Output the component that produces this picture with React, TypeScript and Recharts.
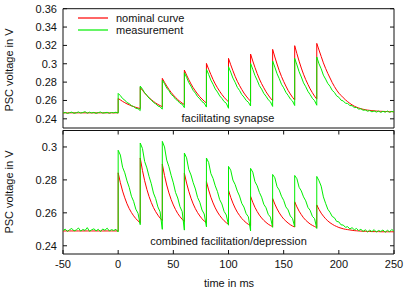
import { LineChart, Line, XAxis, YAxis, ReferenceArea, Legend } from "recharts"

// time grid in ms; every pulse time appears twice (value before and after the jump)
const timeMs = [
  -50, -48, -46, -44, -42, -40, -38, -36, -34, -32, -30, -28, -26, -24, -22, -20, -18, -16, -14, -12, -10, -8, -6, -4, -2,
  0, 0, 2, 4, 6, 8, 10, 12, 14, 16, 18,
  20, 20, 22, 24, 26, 28, 30, 32, 34, 36, 38,
  40, 40, 42, 44, 46, 48, 50, 52, 54, 56, 58,
  60, 60, 62, 64, 66, 68, 70, 72, 74, 76, 78,
  80, 80, 82, 84, 86, 88, 90, 92, 94, 96, 98,
  100, 100, 102, 104, 106, 108, 110, 112, 114, 116, 118,
  120, 120, 122, 124, 126, 128, 130, 132, 134, 136, 138,
  140, 140, 142, 144, 146, 148, 150, 152, 154, 156, 158,
  160, 160, 162, 164, 166, 168, 170, 172, 174, 176, 178,
  180, 180, 182, 184, 186, 188, 190, 192, 194, 196, 198, 200, 202, 204, 206, 208, 210, 212, 214, 216,
  218, 220, 222, 224, 226, 228, 230, 232, 234, 236, 238, 240, 242, 244, 246, 248, 250,
]

// facilitating synapse, nominal curve (V)
const facilNominal = [
  0.2465, 0.2465, 0.2465, 0.2465, 0.2465, 0.2465, 0.2465, 0.2465, 0.2465, 0.2465, 0.2465, 0.2465, 0.2465,
  0.2465, 0.2465, 0.2465, 0.2465, 0.2465, 0.2465, 0.2465, 0.2465, 0.2465, 0.2465, 0.2465, 0.2465,
  0.2465, 0.2622, 0.2606, 0.259, 0.2576, 0.2563, 0.2552, 0.2542, 0.2533, 0.2525, 0.2518,
  0.2512, 0.2742, 0.2711, 0.2681, 0.2654, 0.263, 0.2609, 0.259, 0.2572, 0.2557, 0.2544,
  0.2532, 0.2841, 0.2798, 0.2758, 0.2721, 0.2688, 0.2659, 0.2634, 0.2609, 0.2589, 0.2571,
  0.2555, 0.2931, 0.2877, 0.2827, 0.278, 0.2739, 0.2703, 0.2671, 0.264, 0.2615, 0.2592,
  0.2572, 0.3004, 0.2941, 0.2883, 0.2828, 0.278, 0.2738, 0.27, 0.2665, 0.2635, 0.2608,
  0.2585, 0.3059, 0.2989, 0.2924, 0.2863, 0.2809, 0.2763, 0.272, 0.2681, 0.2648, 0.2618,
  0.2592, 0.3106, 0.303, 0.2959, 0.2893, 0.2834, 0.2783, 0.2738, 0.2695, 0.2659, 0.2626,
  0.2598, 0.3157, 0.3074, 0.2997, 0.2925, 0.2862, 0.2807, 0.2757, 0.271, 0.2671, 0.2635,
  0.2605, 0.3197, 0.311, 0.3028, 0.2953, 0.2886, 0.2827, 0.2775, 0.2726, 0.2685, 0.2647,
  0.2615, 0.3222, 0.315, 0.308, 0.301, 0.295, 0.2895, 0.2845, 0.2795, 0.2752, 0.2713, 0.268, 0.2655, 0.263,
  0.2607, 0.2587, 0.2568, 0.2552, 0.2538, 0.2527, 0.2518, 0.251, 0.2504, 0.2499, 0.2495, 0.2492, 0.2489,
  0.2487, 0.2485, 0.2483, 0.2482, 0.2481, 0.248, 0.2479, 0.2478, 0.2478, 0.2477,
]

// facilitating synapse, measurement (V)
const facilMeasured = [
  0.2462, 0.247, 0.2458, 0.2467, 0.2473, 0.246, 0.2466, 0.2475, 0.2463, 0.2469, 0.2478, 0.2461, 0.2472,
  0.2464, 0.247, 0.2459, 0.2468, 0.2474, 0.2462, 0.2466, 0.2471, 0.246, 0.2469, 0.2465, 0.2472,
  0.2462, 0.2677, 0.2653, 0.2621, 0.2604, 0.2577, 0.2566, 0.2543, 0.2534, 0.2515, 0.251,
  0.249, 0.2757, 0.2724, 0.2683, 0.2658, 0.2624, 0.2606, 0.2578, 0.2564, 0.254, 0.2531,
  0.2505, 0.2822, 0.2783, 0.2736, 0.2707, 0.2667, 0.2646, 0.2614, 0.2597, 0.257, 0.2559,
  0.2522, 0.2902, 0.2852, 0.2795, 0.2756, 0.2709, 0.268, 0.2641, 0.2618, 0.2587, 0.2571,
  0.2528, 0.294, 0.2884, 0.2822, 0.2777, 0.2725, 0.2692, 0.265, 0.2623, 0.2588, 0.257,
  0.2515, 0.2968, 0.2909, 0.2844, 0.2798, 0.2743, 0.2709, 0.2665, 0.2637, 0.2601, 0.2581,
  0.254, 0.3004, 0.294, 0.2871, 0.282, 0.2761, 0.2724, 0.2677, 0.2646, 0.2608, 0.2586,
  0.2535, 0.303, 0.2963, 0.2891, 0.2838, 0.2777, 0.2738, 0.2689, 0.2656, 0.2617, 0.2594,
  0.2545, 0.3059, 0.2988, 0.2913, 0.2856, 0.2792, 0.275, 0.2699, 0.2664, 0.2623, 0.2598,
  0.2548, 0.3074, 0.3, 0.2945, 0.2876, 0.2833, 0.2785, 0.2755, 0.271, 0.2688, 0.265, 0.2635, 0.2603, 0.2595,
  0.257, 0.2567, 0.2545, 0.2543, 0.2523, 0.2524, 0.2506, 0.251, 0.2493, 0.2497, 0.2483, 0.249, 0.2476,
  0.2486, 0.2473, 0.2484, 0.247, 0.2482, 0.2472, 0.2485, 0.247, 0.2481, 0.2474,
]

// combined facilitation/depression, nominal curve (V)
const combNominal = [
  0.249, 0.249, 0.249, 0.249, 0.249, 0.249, 0.249, 0.249, 0.249, 0.249, 0.249, 0.249, 0.249,
  0.249, 0.249, 0.249, 0.249, 0.249, 0.249, 0.249, 0.249, 0.249, 0.249, 0.249, 0.249,
  0.249, 0.2843, 0.2783, 0.2732, 0.2691, 0.2655, 0.2626, 0.2602, 0.2582, 0.2565, 0.2551,
  0.2539, 0.2933, 0.2858, 0.2795, 0.2743, 0.2699, 0.2663, 0.2632, 0.2607, 0.2586, 0.2568,
  0.2553, 0.2896, 0.2827, 0.2769, 0.2721, 0.2681, 0.2648, 0.262, 0.2596, 0.2577, 0.2561,
  0.2547, 0.2841, 0.2781, 0.2731, 0.2689, 0.2654, 0.2625, 0.2601, 0.2581, 0.2564, 0.255,
  0.2538, 0.279, 0.2739, 0.2695, 0.266, 0.263, 0.2605, 0.2584, 0.2567, 0.2552, 0.254,
  0.253, 0.2737, 0.2694, 0.2659, 0.2629, 0.2604, 0.2584, 0.2566, 0.2552, 0.254, 0.253,
  0.2522, 0.27, 0.2664, 0.2633, 0.2608, 0.2586, 0.2569, 0.2554, 0.2542, 0.2531, 0.2523,
  0.2516, 0.2687, 0.2653, 0.2624, 0.26, 0.258, 0.2563, 0.255, 0.2538, 0.2528, 0.252,
  0.2514, 0.2667, 0.2636, 0.261, 0.2589, 0.257, 0.2555, 0.2543, 0.2532, 0.2524, 0.2517,
  0.251, 0.2648, 0.2621, 0.2598, 0.258, 0.2564, 0.2551, 0.254, 0.2531, 0.2523, 0.2517, 0.2511, 0.2507, 0.2503,
  0.25, 0.2498, 0.2496, 0.2494, 0.2492, 0.2491, 0.249, 0.2489, 0.2488, 0.2488, 0.2487, 0.2487, 0.2486,
  0.2486, 0.2486, 0.2486, 0.2485, 0.2485, 0.2485, 0.2485, 0.2485, 0.2485, 0.2485,
]

// combined facilitation/depression, measurement (V)
const combMeasured = [
  0.2492, 0.2501, 0.2487, 0.2498, 0.2505, 0.249, 0.2496, 0.2508, 0.2489, 0.2499, 0.2493, 0.251, 0.2488,
  0.2497, 0.2503, 0.2491, 0.25, 0.2486, 0.2502, 0.2494, 0.2507, 0.249, 0.2498, 0.2493, 0.25,
  0.2484, 0.298, 0.2951, 0.2877, 0.2843, 0.2794, 0.2755, 0.2701, 0.267, 0.2622, 0.2597,
  0.2528, 0.3024, 0.2991, 0.2912, 0.2873, 0.2821, 0.2777, 0.272, 0.2686, 0.2636, 0.2606,
  0.25, 0.3034, 0.3, 0.292, 0.288, 0.2828, 0.2782, 0.2724, 0.269, 0.2638, 0.2608,
  0.2495, 0.2963, 0.2934, 0.2863, 0.283, 0.2783, 0.2745, 0.2693, 0.2664, 0.2617, 0.2593,
  0.2515, 0.2933, 0.2906, 0.2839, 0.2809, 0.2764, 0.2729, 0.268, 0.2654, 0.2609, 0.2587,
  0.2525, 0.2882, 0.2859, 0.2799, 0.2772, 0.2732, 0.2702, 0.2658, 0.2635, 0.2595, 0.2576,
  0.249, 0.287, 0.2847, 0.2789, 0.2764, 0.2724, 0.2695, 0.2652, 0.2631, 0.2591, 0.2574,
  0.2512, 0.2833, 0.2813, 0.2759, 0.2738, 0.2701, 0.2676, 0.2636, 0.2618, 0.2581, 0.2566,
  0.2515, 0.2827, 0.2807, 0.2755, 0.2733, 0.2697, 0.2673, 0.2633, 0.2615, 0.2579, 0.2565,
  0.2505, 0.2821, 0.2795, 0.2762, 0.2697, 0.2658, 0.2622, 0.2603, 0.2578, 0.257, 0.2548, 0.2545, 0.2527, 0.2526,
  0.2512, 0.2516, 0.2502, 0.251, 0.2497, 0.2505, 0.2492, 0.25, 0.2487, 0.2497, 0.2484, 0.2495, 0.2486,
  0.2498, 0.2483, 0.2493, 0.2487, 0.2496, 0.2482, 0.2494, 0.2485, 0.2499, 0.2488,
]

const timeTicks = [-50, 0, 50, 100, 150, 200, 250]
const facilTicks = [0.24, 0.26, 0.28, 0.3, 0.32, 0.34, 0.36]
const combTicks = [0.24, 0.26, 0.28, 0.3]
const legendOrder = ["nominal curve", "measurement"]

const facilData = timeMs.map((t, i) => ({ t, nominal: facilNominal[i], measured: facilMeasured[i] }))
const combData = timeMs.map((t, i) => ({ t, nominal: combNominal[i], measured: combMeasured[i] }))

const FONT = '"Liberation Sans", Arial, Helvetica, sans-serif'
const RED = "#ff0000"
const GREEN = "#00ee00"
const INK = "#111"
const PLOT_W = 331
const TICK_LEN = 4
const TICK_GAP = 6

// y tick: label on the left, inward tick marks on both sides of the frame
const makeYTick = () => (props: any) => {
  const { x, y, payload } = props
  const ax = x + TICK_GAP
  return (
    <g>
      <line x1={ax} x2={ax + TICK_LEN} y1={y} y2={y} stroke={INK} />
      <line x1={ax + PLOT_W - TICK_LEN} x2={ax + PLOT_W} y1={y} y2={y} stroke={INK} />
      <text x={x} y={y} textAnchor="end" dominantBaseline="central" fontFamily={FONT} fontSize={11} fill={INK}>
        {String(payload.value)}
      </text>
    </g>
  )
}

// x tick: inward marks at bottom and top, label only on the lower panel
const makeXTick = (plotH: number, showLabel: boolean) => (props: any) => {
  const { x, y, payload } = props
  const ay = y - TICK_GAP
  return (
    <g>
      <line x1={x} x2={x} y1={ay} y2={ay - TICK_LEN} stroke={INK} />
      <line x1={x} x2={x} y1={ay - plotH} y2={ay - plotH + TICK_LEN} stroke={INK} />
      {showLabel && (
        <text x={x} y={y} dy="0.71em" textAnchor="middle" fontFamily={FONT} fontSize={11} fill={INK}>
          {String(payload.value)}
        </text>
      )}
    </g>
  )
}

const renderLegend = (props: any) => {
  const items = [...(props.payload || [])].sort(
    (a: any, b: any) => legendOrder.indexOf(a.value) - legendOrder.indexOf(b.value)
  )
  return (
    <div style={{ fontFamily: FONT, fontSize: 11, color: INK }}>
      {items.map((entry: any) => (
        <div key={entry.value} style={{ display: "flex", alignItems: "center", height: 12 }}>
          <svg width={32} height={4}>
            <line x1={1} x2={31} y1={2} y2={2} stroke={entry.color} strokeWidth={1.2} />
          </svg>
          <span style={{ marginLeft: 7, lineHeight: "12px" }}>{entry.value}</span>
        </div>
      ))}
    </div>
  )
}

const Caption = ({ x, y, text, rotate }: { x: number; y: number; text: string; rotate?: boolean }) => (
  <div
    style={{
      position: "absolute",
      left: x,
      top: y,
      transform: `translate(-50%, -50%)${rotate ? " rotate(-90deg)" : ""}`,
      whiteSpace: "nowrap",
      fontFamily: FONT,
      fontSize: 11,
      lineHeight: 1,
      color: INK,
    }}
  >
    {text}
  </div>
)

export default function App() {
  return (
    <div style={{ position: "absolute", left: 0, top: 0, width: 415, height: 291, background: "#fff" }}>
      <div style={{ position: "absolute", left: 0, top: 0 }}>
        <LineChart width={415} height={130} data={facilData} margin={{ top: 8.7, right: 21, bottom: 2, left: 0 }}>
          <XAxis
            dataKey="t"
            type="number"
            domain={[-50, 250]}
            ticks={timeTicks}
            interval={0}
            height={0}
            tickSize={0}
            tickMargin={TICK_GAP}
            axisLine={false}
            tickLine={false}
            tick={makeXTick(119.3, false)}
          />
          <YAxis
            type="number"
            domain={[0.23, 0.36]}
            ticks={facilTicks}
            interval={0}
            width={63}
            tickSize={0}
            tickMargin={TICK_GAP}
            axisLine={false}
            tickLine={false}
            allowDataOverflow
            tick={makeYTick()}
          />
          <ReferenceArea x1={-50} x2={250} y1={0.23} y2={0.36} fill="none" stroke={INK} ifOverflow="visible" />
          <Legend
            layout="vertical"
            align="center"
            verticalAlign="middle"
            wrapperStyle={{ left: 77, top: 11.5, width: "auto" }}
            content={renderLegend}
          />
          <Line name="nominal curve" dataKey="nominal" type="linear" stroke={RED} strokeWidth={1} dot={false} activeDot={false} isAnimationActive={false} />
          <Line name="measurement" dataKey="measured" type="linear" stroke={GREEN} strokeWidth={1} dot={false} activeDot={false} isAnimationActive={false} />
        </LineChart>
      </div>
      <div style={{ position: "absolute", left: 0, top: 130 }}>
        <LineChart width={415} height={161} data={combData} margin={{ top: 0.5, right: 21, bottom: 0, left: 0 }}>
          <XAxis
            dataKey="t"
            type="number"
            domain={[-50, 250]}
            ticks={timeTicks}
            interval={0}
            height={37}
            tickSize={0}
            tickMargin={TICK_GAP}
            axisLine={false}
            tickLine={false}
            tick={makeXTick(123.5, true)}
          />
          <YAxis
            type="number"
            domain={[0.235, 0.31]}
            ticks={combTicks}
            interval={0}
            width={63}
            tickSize={0}
            tickMargin={TICK_GAP}
            axisLine={false}
            tickLine={false}
            allowDataOverflow
            tick={makeYTick()}
          />
          <ReferenceArea x1={-50} x2={250} y1={0.235} y2={0.31} fill="none" stroke={INK} ifOverflow="visible" />
          <Line name="nominal curve" dataKey="nominal" type="linear" stroke={RED} strokeWidth={1} dot={false} activeDot={false} isAnimationActive={false} />
          <Line name="measurement" dataKey="measured" type="linear" stroke={GREEN} strokeWidth={1} dot={false} activeDot={false} isAnimationActive={false} />
        </LineChart>
      </div>
      <Caption x={8.5} y={70} text="PSC voltage in V" rotate />
      <Caption x={8.5} y={192} text="PSC voltage in V" rotate />
      <Caption x={228} y={118} text="facilitating synapse" />
      <Caption x={228.5} y={241} text="combined facilitation/depression" />
      <Caption x={229} y={283} text="time in ms" />
    </div>
  )
}
